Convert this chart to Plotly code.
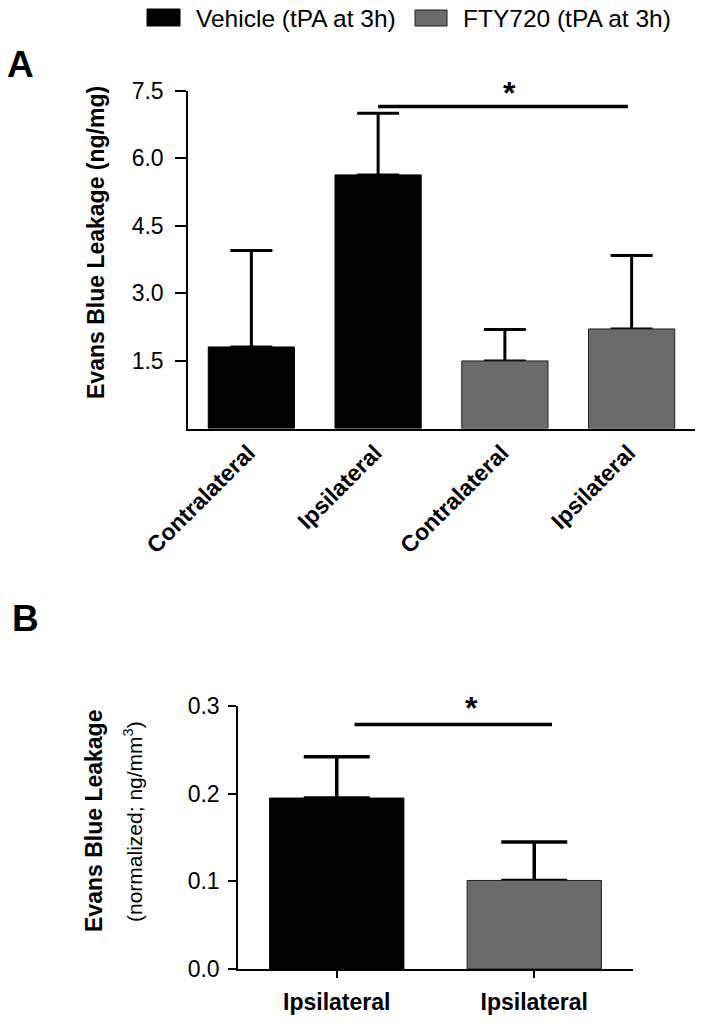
import plotly.graph_objects as go

# ---------------- data ----------------
# Panel A: Evans Blue leakage (ng/mg)
a_positions = [0, 1, 2, 3]
a_tick_labels = ["Contralateral", "Ipsilateral", "Contralateral", "Ipsilateral"]
a_vehicle_x = [0, 1]
a_vehicle_mean = [1.81, 5.63]
a_vehicle_err = [2.14, 1.37]
a_fty_x = [2, 3]
a_fty_mean = [1.50, 2.21]
a_fty_err = [0.70, 1.63]
a_y_ticks = [1.5, 3.0, 4.5, 6.0, 7.5]
a_sig = {"x0": 1.0, "x1": 2.97, "y": 7.15, "star_x": 2.04}

# Panel B: normalized Evans Blue leakage (ng/mm^3)
b_positions = [0, 1]
b_tick_labels = ["Ipsilateral", "Ipsilateral"]
b_vehicle_x = [0]
b_vehicle_mean = [0.195]
b_vehicle_err = [0.047]
b_fty_x = [1]
b_fty_mean = [0.101]
b_fty_err = [0.044]
b_y_ticks = [0.0, 0.1, 0.2, 0.3]
b_sig = {"x0": 0.09, "x1": 1.09, "y": 0.279, "star_x": 0.68}

series_names = ["Vehicle (tPA at 3h)", "FTY720 (tPA at 3h)"]

# ---------------- style ----------------
W, H = 704, 1026
FONT = "Arial, Liberation Sans, Helvetica, sans-serif"
BLACK = "#000000"
GRAY = "#6b6b6b"


def px(x):
    return x / W


def py(y):
    return 1 - y / H


fig = go.Figure()


def add_group(xs, means, errs, color, outline, xa, ya, err_thick, cap_w):
    # error bars (drawn first, so the bar covers the lower cap)
    fig.add_trace(go.Bar(
        x=xs, y=means, width=0.68, xaxis=xa, yaxis=ya,
        marker=dict(color="rgba(0,0,0,0)", line=dict(width=0)),
        error_y=dict(type="data", symmetric=False, array=errs,
                     arrayminus=[0] * len(errs), color=BLACK,
                     thickness=err_thick, width=cap_w),
        showlegend=False, hoverinfo="skip"))
    fig.add_trace(go.Bar(
        x=xs, y=means, width=0.68, xaxis=xa, yaxis=ya,
        marker=dict(color=color, line=dict(color=outline, width=1)),
        showlegend=False))


add_group(a_vehicle_x, a_vehicle_mean, a_vehicle_err, BLACK, BLACK, "x", "y", 3, 21)
add_group(a_fty_x, a_fty_mean, a_fty_err, GRAY, "#1e1e1e", "x", "y", 3, 21)
add_group(b_vehicle_x, b_vehicle_mean, b_vehicle_err, BLACK, BLACK, "x2", "y2", 3.5, 33)
add_group(b_fty_x, b_fty_mean, b_fty_err, GRAY, "#1e1e1e", "x2", "y2", 3.5, 33)

axis_common = dict(showline=True, linecolor=BLACK, linewidth=1.5, showgrid=False,
                   zeroline=False, tickcolor=BLACK, tickwidth=1.5, automargin=False)

fig.update_layout(
    template="none",
    width=W, height=H, margin=dict(l=0, r=0, t=0, b=0, autoexpand=False),
    paper_bgcolor="white", plot_bgcolor="white",
    barmode="overlay", showlegend=False,
    font=dict(family=FONT, color=BLACK),
    xaxis=dict(domain=[px(188), px(695)], range=[-0.5, 3.5], anchor="y",
               tickvals=a_positions, ticktext=a_tick_labels, ticks="",
               tickangle=-45, tickfont=dict(size=23, weight="bold", family=FONT),
               ticklabelshift=-3,
               **axis_common),
    yaxis=dict(domain=[py(428.5), py(90.7)], range=[0, 7.5], anchor="x",
               tickvals=a_y_ticks, ticktext=["%.1f" % v for v in a_y_ticks],
               ticks="outside", ticklen=11, tickfont=dict(size=23, family=FONT),
               ticklabelstandoff=7,
               **axis_common),
    xaxis2=dict(domain=[px(238), px(633)], range=[-0.5, 1.5], anchor="y2",
                tickvals=b_positions, ticktext=b_tick_labels, ticks="outside",
                ticklen=7, tickfont=dict(size=23, weight="bold", family=FONT),
                ticklabelstandoff=5,
                **axis_common),
    yaxis2=dict(domain=[py(969), py(706)], range=[0, 0.3], anchor="x2",
                tickvals=b_y_ticks, ticktext=["%.1f" % v for v in b_y_ticks],
                ticks="outside", ticklen=8, tickfont=dict(size=23, family=FONT),
                ticklabelstandoff=4,
                **axis_common),
)

# significance bars with asterisks
for sig, xr, yr, star_px in [(a_sig, "x", "y", 93), (b_sig, "x2", "y2", 708)]:
    fig.add_shape(type="line", xref=xr, yref=yr, x0=sig["x0"], x1=sig["x1"],
                  y0=sig["y"], y1=sig["y"], line=dict(color=BLACK, width=3.5))
    fig.add_annotation(xref=xr, yref="paper", x=sig["star_x"], y=py(star_px),
                       text="<b>*</b>", showarrow=False, yanchor="middle",
                       font=dict(size=32, family=FONT, color=BLACK))

# legend (drawn manually)
fig.add_shape(type="rect", xref="paper", yref="paper", x0=px(147), x1=px(180),
              y0=py(26), y1=py(9), fillcolor=BLACK, line=dict(color=BLACK, width=1))
fig.add_annotation(xref="paper", yref="paper", x=px(194), y=py(18), text=series_names[0],
                   showarrow=False, xanchor="left", yanchor="middle",
                   font=dict(size=24.5, family=FONT, color=BLACK))
fig.add_shape(type="rect", xref="paper", yref="paper", x0=px(415), x1=px(447),
              y0=py(26), y1=py(10), fillcolor=GRAY, line=dict(color="#1e1e1e", width=1))
fig.add_annotation(xref="paper", yref="paper", x=px(461), y=py(18), text=series_names[1],
                   showarrow=False, xanchor="left", yanchor="middle",
                   font=dict(size=24.5, family=FONT, color=BLACK))

# panel letters
fig.add_annotation(xref="paper", yref="paper", x=px(5), y=py(64), text="<b>A</b>",
                   showarrow=False, xanchor="left", yanchor="middle",
                   font=dict(size=37, family=FONT, color=BLACK))
fig.add_annotation(xref="paper", yref="paper", x=px(10), y=py(618), text="<b>B</b>",
                   showarrow=False, xanchor="left", yanchor="middle",
                   font=dict(size=37, family=FONT, color=BLACK))

# y-axis titles
fig.add_annotation(xref="paper", yref="paper", x=px(96), y=py(243), textangle=-90,
                   text="<b>Evans Blue Leakage (ng/mg)</b>", showarrow=False,
                   xanchor="center", yanchor="middle",
                   font=dict(size=23, family=FONT, color=BLACK))
fig.add_annotation(xref="paper", yref="paper", x=px(94), y=py(821), textangle=-90,
                   text="<b>Evans Blue Leakage</b>", showarrow=False,
                   xanchor="center", yanchor="middle",
                   font=dict(size=23, family=FONT, color=BLACK))
fig.add_annotation(xref="paper", yref="paper", x=px(133), y=py(822), textangle=-90,
                   text="(normalized; ng/mm<sup>3</sup>)", showarrow=False,
                   xanchor="center", yanchor="middle",
                   font=dict(size=21, family=FONT, color=BLACK))

fig.write_html(
    "out.html",
    config={"displayModeBar": False},
    post_script="document.body.style.margin='0';document.body.style.padding='0';",
)
